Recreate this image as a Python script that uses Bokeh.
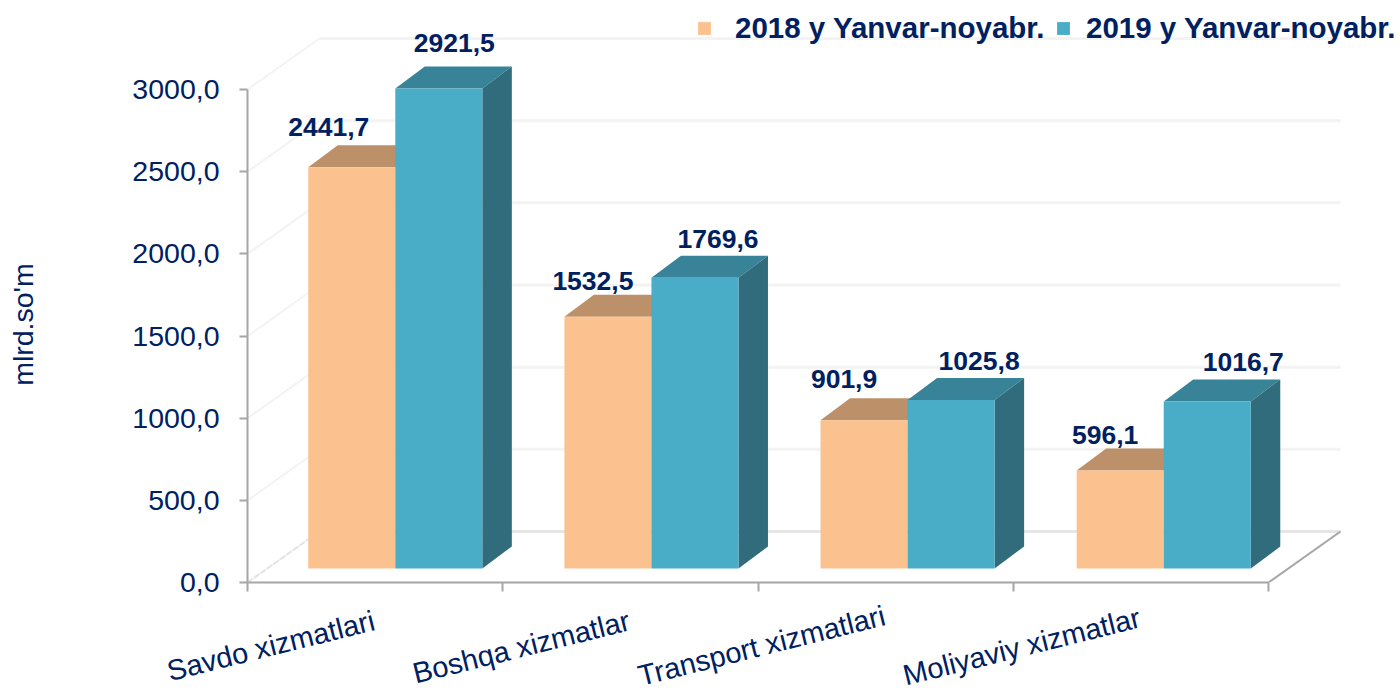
import math
from bokeh.embed import file_html
from bokeh.resources import INLINE
from bokeh.plotting import figure
from bokeh.models import ColumnDataSource, FixedTicker, Legend, LegendItem, Range1d
from bokeh.core.properties import value

categories = ["Savdo xizmatlari", "Boshqa xizmatlar", "Transport xizmatlari", "Moliyaviy xizmatlar"]
series_2018 = [2441.7, 1532.5, 901.9, 596.1]
series_2019 = [2921.5, 1769.6, 1025.8, 1016.7]
y_ticks = [0, 500, 1000, 1500, 2000, 2500, 3000]
legend_labels = ["2018 y Yanvar-noyabr.", "2019 y Yanvar-noyabr."]
y_title = "mlrd.so'm"

NAVY = "#002060"
FONT = "Liberation Sans"
ORANGE, ORANGE_TOP = "#FBC28F", "#BC9069"
BLUE, BLUE_TOP, BLUE_SIDE = "#49ADC8", "#388397", "#316C7C"
AXIS = "#A6A6A6"
GRID = "#F3F3F3"

PX_X = 255.25          # px per category
PX_Y = 0.16433         # px per unit
W, H = 1400, 691
LEFT, BOTTOM = 247, 109

def fmt(v):
    return f"{v:.1f}".replace(".", ",")

p = figure(width=W, height=H, output_backend="svg", toolbar_location=None,
           x_range=Range1d(0, (W - LEFT) / PX_X), y_range=Range1d(0, (H - BOTTOM) / PX_Y),
           min_border_left=LEFT, min_border_bottom=BOTTOM, min_border_right=0, min_border_top=0,
           background_fill_color="white", border_fill_color="white")
p.outline_line_color = None
p.grid.visible = False

# 3D geometry
bar_w = 0.341
start = 0.238
pitch = 1.0035
base = 14 / PX_Y
dx, dy = 29.5 / PX_X, 22 / PX_Y
wall_dx, wall_dy = 72 / PX_X, 51 / PX_Y
n = len(categories)

# walls
p.segment(x0=[wall_dx] * len(y_ticks), y0=[t + wall_dy for t in y_ticks],
          x1=[n + wall_dx] * len(y_ticks), y1=[t + wall_dy for t in y_ticks],
          line_color=GRID, line_width=3)
p.segment(x0=[0] * len(y_ticks), y0=y_ticks,
          x1=[wall_dx] * len(y_ticks), y1=[t + wall_dy for t in y_ticks],
          line_color=GRID, line_width=2)
p.segment(x0=[0], y0=[0], x1=[wall_dx], y1=[wall_dy], line_color="#E4E4E4", line_width=2, line_dash="6 2")
p.segment(x0=[wall_dx], y0=[wall_dy], x1=[n + wall_dx], y1=[wall_dy], line_color="#E6E6E6", line_width=3)
p.segment(x0=[n], y0=[0], x1=[n + wall_dx], y1=[wall_dy], line_color=AXIS, line_width=2)

# orange bars
l1 = [i * pitch + start for i in range(n)]
r1 = [x + bar_w for x in l1]
t1 = [base + v for v in series_2018]
p.patches(xs=[[a, b, b + dx, a + dx] for a, b in zip(l1, r1)],
          ys=[[t, t, t + dy, t + dy] for t in t1], fill_color=ORANGE_TOP, line_color=None)
r18 = p.quad(left=l1, right=r1, bottom=[base] * n, top=t1, fill_color=ORANGE, line_color=None)

# blue bars
l2 = r1
r2 = [x + bar_w for x in l2]
t2 = [base + v for v in series_2019]
p.patches(xs=[[a, b, b + dx, a + dx] for a, b in zip(l2, r2)],
          ys=[[t, t, t + dy, t + dy] for t in t2], fill_color=BLUE_TOP, line_color=None)
p.patches(xs=[[b, b + dx, b + dx, b] for b in r2],
          ys=[[base, base + dy, t + dy, t] for t in t2], fill_color=BLUE_SIDE, line_color=None)
r19 = p.quad(left=l2, right=r2, bottom=[base] * n, top=t2, fill_color=BLUE, line_color=None)

# data labels
off_x = [-23, -15, -20, -15, 15.5, 23, 28, 36]
off_y = [-40, -36, -41, -36, -45, -39, -39, -39]
src = ColumnDataSource(dict(
    x=[a + bar_w / 2 for a in l1] + [a + bar_w / 2 for a in l2],
    y=t1 + t2,
    t=[fmt(v) for v in series_2018 + series_2019],
    ox=off_x, oy=off_y))
p.text(x="x", y="y", text="t", x_offset="ox", y_offset="oy", source=src,
       text_font=value(FONT), text_font_style="bold", text_font_size="26.5px", text_color=NAVY,
       text_align="center", text_baseline="middle")

# axes
ya = p.yaxis[0]
ya.ticker = FixedTicker(ticks=y_ticks)
ya.major_label_overrides = {t: fmt(t) for t in y_ticks}
ya.bounds = (0, 3000)
ya.axis_line_color = AXIS
ya.axis_line_width = 2
ya.major_tick_line_color = AXIS
ya.major_tick_line_width = 2
ya.major_tick_out = 8
ya.major_tick_in = 0
ya.minor_tick_out = 0
ya.minor_tick_in = 0
ya.major_label_standoff = 20
ya.major_label_text_font = FONT
ya.major_label_text_font_size = "28.5px"
ya.major_label_text_color = NAVY

xa = p.xaxis[0]
xa.ticker = FixedTicker(ticks=list(range(n + 1)))
xa.major_label_text_font_size = "0px"
xa.major_label_text_color = None
xa.major_label_standoff = 0
xa.bounds = (0, n)
xa.axis_line_color = AXIS
xa.axis_line_width = 2
xa.major_tick_line_color = AXIS
xa.major_tick_line_width = 2
xa.major_tick_out = 9
xa.major_tick_in = 0
xa.minor_tick_out = 0
xa.minor_tick_in = 0

# category labels, right end at band centre
cat_src = ColumnDataSource(dict(x=[i + 0.5 for i in range(n)], y=[0] * n, t=categories, oy=[22, 22, 17, 19]))
p.text(x="x", y="y", text="t", y_offset="oy", source=cat_src, angle=math.radians(14),
       x_offset=-5, text_font=value(FONT), text_font_size="29px", text_color=NAVY,
       text_align="right", text_baseline="top", level="overlay")

p.text(x=[-0.878], y=[1570], text=[y_title], angle=math.pi / 2, text_font=value(FONT),
       text_font_size="28.5px", text_color=NAVY, text_align="center", text_baseline="middle", level="overlay")

common = dict(orientation="horizontal", background_fill_alpha=0, border_line_color=None,
              label_text_font=FONT, label_text_font_style="bold", label_text_font_size="29.5px",
              label_text_color=NAVY, glyph_width=16, glyph_height=16,
              padding=0, margin=0, click_policy="none")
p.add_layout(Legend(items=[LegendItem(label=legend_labels[0], renderers=[r18])],
                    location=(449, 537), label_standoff=23, **common), "center")
p.add_layout(Legend(items=[LegendItem(label=legend_labels[1], renderers=[r19])],
                    location=(808, 537), label_standoff=15, **common), "center")

open("out.html", "w").write(file_html(p, INLINE))
